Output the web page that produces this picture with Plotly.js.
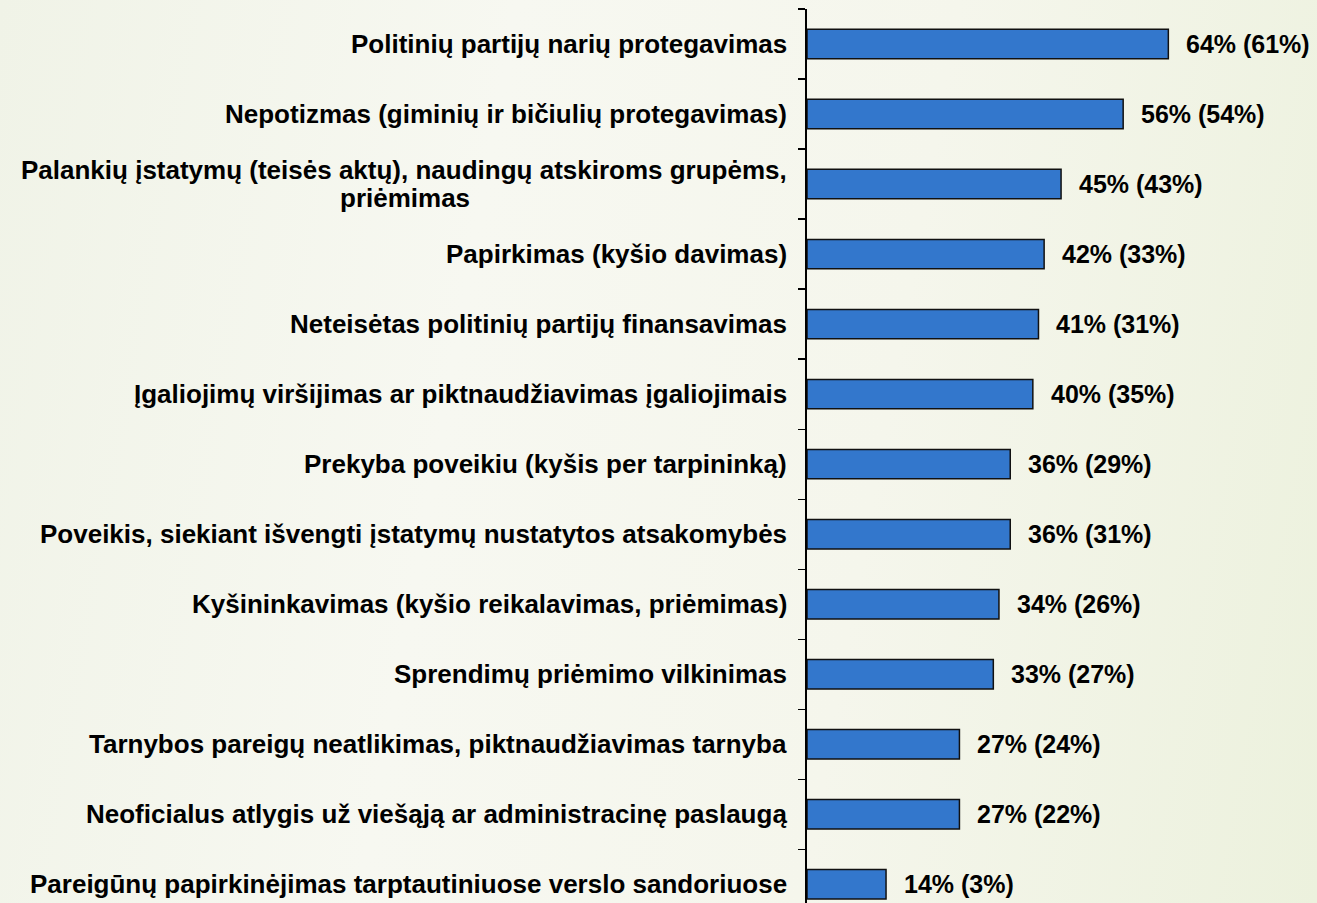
<!DOCTYPE html>
<html>
<head>
<meta charset="utf-8">
<script src="https://cdn.plot.ly/plotly-3.0.1.min.js"></script>
<style>
  html, body { margin: 0; padding: 0; width: 1317px; height: 903px; overflow: hidden; }
  body { background: linear-gradient(100deg, #f0f3e7 0%, #f7f8f1 35%, #f5f6ec 65%, #ecf1dd 100%); }
  #chart { width: 1317px; height: 903px; }
</style>
</head>
<body>
<div id="chart"></div>
<script>
const categories = [
  "Politinių partijų narių protegavimas",
  "Nepotizmas (giminių ir bičiulių protegavimas)",
  "Palankių įstatymų (teisės aktų), naudingų atskiroms grupėms,<br>priėmimas",
  "Papirkimas (kyšio davimas)",
  "Neteisėtas politinių partijų finansavimas",
  "Įgaliojimų viršijimas ar piktnaudžiavimas įgaliojimais",
  "Prekyba poveikiu (kyšis per tarpininką)",
  "Poveikis, siekiant išvengti įstatymų nustatytos atsakomybės",
  "Kyšininkavimas (kyšio reikalavimas, priėmimas)",
  "Sprendimų priėmimo vilkinimas",
  "Tarnybos pareigų neatlikimas, piktnaudžiavimas tarnyba",
  "Neoficialus atlygis už viešąją ar administracinę paslaugą",
  "Pareigūnų papirkinėjimas tarptautiniuose verslo sandoriuose"
];
const values = [64, 56, 45, 42, 41, 40, 36, 36, 34, 33, 27, 27, 14];
const previousValues = [61, 54, 43, 33, 31, 35, 29, 31, 26, 27, 24, 22, 3];

const labelFont = { family: "Arial, 'Liberation Sans', sans-serif", size: 25, color: "#000000", weight: 700 };
const catFont = { family: "Arial, 'Liberation Sans', sans-serif", size: 26, color: "#000000", weight: 700 };

const trace = {
  type: "bar",
  orientation: "h",
  y: categories,
  x: values,
  marker: { color: "#3377CC", line: { color: "#111111", width: 1.5 } },
  hoverinfo: "skip",
  cliponaxis: false
};

const annotations = [];
values.forEach((v, i) => {
  annotations.push({
    x: v, y: categories[i], xref: "x", yref: "y",
    text: v + "% (" + previousValues[i] + "%)",
    showarrow: false, xanchor: "left", yanchor: "middle",
    xshift: 16, font: labelFont
  });
});
const lineGap = 28;
const catShift = -18;
categories.forEach((c, i) => {
  const lines = c.split("<br>");
  const n = lines.length;
  lines.forEach((ln, j) => {
    const off = ((n - 1) / 2 - j) * lineGap;
    annotations.push({
      x: 0, y: categories[i], xref: "paper", yref: "y",
      text: ln, showarrow: false,
      xanchor: j === 0 ? "right" : "center", yanchor: "middle",
      xshift: j === 0 ? catShift : 0, yshift: off,
      font: catFont
    });
  });
});

const layout = {
  width: 1317, height: 903,
  margin: { l: 807, r: 0, t: 9, b: 0 },
  paper_bgcolor: "rgba(0,0,0,0)",
  plot_bgcolor: "rgba(0,0,0,0)",
  showlegend: false,
  bargap: 0.58,
  xaxis: { range: [0, 90.33], visible: false, fixedrange: true },
  yaxis: {
    type: "category",
    categoryorder: "array",
    categoryarray: categories,
    range: [12.267, -0.5],
    showticklabels: false,
    showline: true, linecolor: "#000000", linewidth: 2,
    ticks: "outside", tickson: "boundaries", ticklen: 7, tickcolor: "#000000", tickwidth: 1.3,
    showgrid: false, zeroline: false, fixedrange: true
  },
  annotations: annotations
};

Plotly.newPlot("chart", [trace], layout, { displayModeBar: false, staticPlot: true }).then(gd => {
  const nodes = gd.querySelectorAll(".annotation");
  const update = {};
  let idx = values.length;
  categories.forEach((c, i) => {
    const lines = c.split("<br>");
    if (lines.length > 1) {
      const w = nodes[idx].getBoundingClientRect().width;
      for (let j = 1; j < lines.length; j++) {
        update["annotations[" + (idx + j) + "].xshift"] = catShift - w / 2;
      }
    }
    idx += lines.length;
  });
  if (Object.keys(update).length) Plotly.relayout(gd, update);
});
</script>
</body>
</html>
